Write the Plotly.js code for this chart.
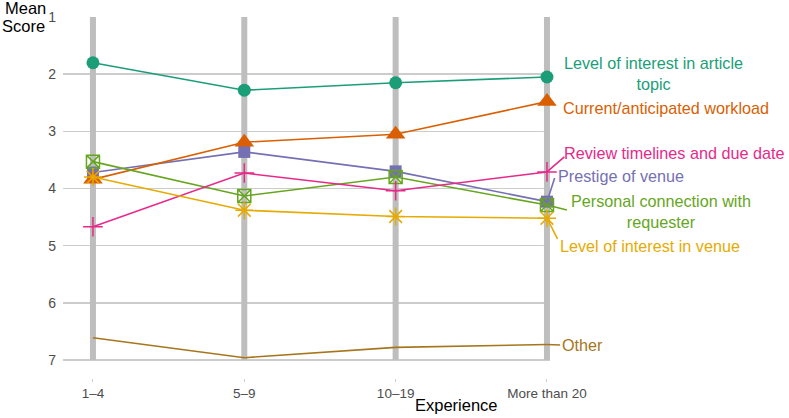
<!DOCTYPE html>
<html>
<head>
<meta charset="utf-8">
<script src="https://cdn.plot.ly/plotly-3.0.1.min.js"></script>
<style>html,body{margin:0;padding:0;background:#fff}#chart{width:789px;height:418px}</style>
</head>
<body>
<div id="chart"></div>
<script>
// ---- data ----
var categories = ["1–4", "5–9", "10–19", "More than 20"];
var seriesNames = [
  "Level of interest in article topic",
  "Prestige of venue",
  "Current/anticipated workload",
  "Personal connection with requester",
  "Review timelines and due date",
  "Level of interest in venue",
  "Other"
];
var topicScores    = [1.80, 2.28, 2.15, 2.05];
var prestigeScores = [3.72, 3.36, 3.70, 4.23];
var workloadScores = [3.84, 3.19, 3.05, 2.48];
var personalScores = [3.53, 4.13, 3.80, 4.29];
var reviewScores   = [4.67, 3.73, 4.04, 3.71];
var venueScores    = [3.80, 4.38, 4.49, 4.52];
var otherScores    = [6.61, 6.96, 6.78, 6.73];
var labelTexts = [
  "Level of interest in article<br>topic",
  "Prestige of venue",
  "Current/anticipated workload",
  "Personal connection with<br>requester",
  "Review timelines and due date",
  "Level of interest in venue",
  "Other"
];
var yTicks = [1, 2, 3, 4, 5, 6, 7];

// ---- styles ----
var allValues = [topicScores, prestigeScores, workloadScores, personalScores, reviewScores, venueScores, otherScores];
var colors = ["#1b9e77", "#7570b3", "#d95f02", "#66a61e", "#e7298a", "#e6ab02", "#a6761d"];
var symbols = ["circle", "square", "triangle-up", "square-x-open", "cross-thin-open", "asterisk-open", null];
var sizes = [13, 12, 17, 13, 14, 15, 0];
// label placement (paper coords) & anchors
var labelPos = [
  {x: 1.2115, y: 0.8435, xa: "center"},
  {x: 1.0114, y: 0.5596, xa: "left"},
  {x: 1.0217, y: 0.7479, xa: "left"},
  {x: 1.2279, y: 0.4626, xa: "center"},
  {x: 1.0245, y: 0.6233, xa: "left"},
  {x: 1.0155, y: 0.3657, xa: "left"},
  {x: 1.0196, y: 0.0914, xa: "left"}
];
// connector end points (data coords), null = no connector
var connEnd = [null, [3.053, 3.80], null, [3.135, 4.38], [3.118, 3.44], [3.073, 4.90], [3.09, 6.737]];

var FONT = "Liberation Sans, Arial, Helvetica, sans-serif";

var traces = allValues.map(function (vals, i) {
  var t = {
    type: "scatter",
    x: categories,
    y: vals,
    name: seriesNames[i],
    mode: symbols[i] ? "lines+markers" : "lines",
    line: {color: colors[i], width: 1.6},
    cliponaxis: false,
    hoverinfo: "x+y+name"
  };
  if (symbols[i]) {
    t.marker = {symbol: symbols[i], size: sizes[i], color: colors[i], line: {color: colors[i], width: symbols[i].indexOf("open") >= 0 ? 1.5 : 0}};
  }
  return t;
});

var shapes = categories.map(function (c, i) {
  return {type: "line", layer: "between", xref: "x", yref: "y", x0: i, x1: i, y0: 1, y1: 7,
          line: {color: "#bebebe", width: 6}};
});

var annotations = [];
// connectors (arrows without heads from label side to the last point)
connEnd.forEach(function (e, i) {
  if (!e) return;
  var v = allValues[i];
  annotations.push({text: " ", xref: "x", yref: "y", axref: "x", ayref: "y",
                    x: categories.length - 1, y: v[v.length - 1], ax: e[0], ay: e[1],
                    showarrow: true, arrowhead: 0, arrowwidth: 1.6, arrowcolor: colors[i],
                    standoff: 0, startstandoff: 0, borderpad: 0,
                    font: {size: 1, color: colors[i]}});
});
labelTexts.forEach(function (txt, i) {
  annotations.push({text: txt, xref: "paper", yref: "paper", x: labelPos[i].x, y: labelPos[i].y,
          xanchor: labelPos[i].xa, yanchor: "middle", align: "center", showarrow: false,
          font: {family: FONT, size: 16.2, color: colors[i]}});
});
annotations.push({text: "Mean", xref: "paper", yref: "paper", x: -0.123, y: 1.025, xanchor: "left", yanchor: "middle",
                  showarrow: false, font: {family: FONT, size: 16.5, color: "#000"}});
annotations.push({text: "Score", xref: "paper", yref: "paper", x: -0.129, y: 0.975, xanchor: "left", yanchor: "middle",
                  showarrow: false, font: {family: FONT, size: 16.5, color: "#000"}});
annotations.push({text: "Experience", xref: "paper", yref: "paper", x: 0.807, y: -0.0748, xanchor: "center", yanchor: "middle",
                  showarrow: false, font: {family: FONT, size: 16.5, color: "#000"}});

var layout = {
  width: 789, height: 418,
  margin: {l: 63, r: 239, t: 17, b: 40},
  paper_bgcolor: "#fff", plot_bgcolor: "#fff",
  showlegend: false,
  font: {family: FONT},
  xaxis: {type: "category", range: [-0.198, 3.02], autorange: false,
          showgrid: false, zeroline: false, showline: false,
          ticks: "outside", ticklen: 3, tickwidth: 1, tickcolor: "#cccccc",
          tickfont: {family: FONT, size: 13.5, color: "#4d4d4d"}},
  yaxis: {range: [7.315, 1], autorange: false, tickvals: yTicks, ticktext: yTicks.map(String),
          showgrid: true, gridcolor: "#cccccc", gridwidth: 1.5, zeroline: false, showline: false,
          ticks: "", ticklabelstandoff: 6,
          tickfont: {family: FONT, size: 14, color: "#4d4d4d"}},
  shapes: shapes,
  annotations: annotations
};

Plotly.newPlot("chart", traces, layout, {displayModeBar: false, staticPlot: true});
</script>
</body>
</html>
